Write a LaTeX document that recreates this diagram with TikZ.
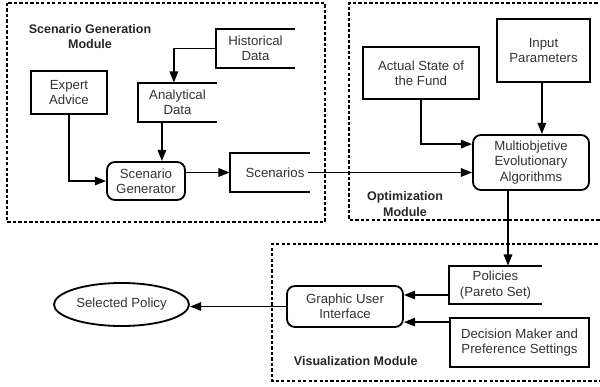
\documentclass[tikz,border=0pt]{standalone}
\usepackage{fontspec}
\setmainfont{Liberation Sans}
\usetikzlibrary{arrows.meta,shapes.geometric}

\begin{document}
\begin{tikzpicture}[x=0.025cm, y=-0.025cm,
	every node/.style={font=\fontsize{9.4}{10.8}\selectfont, text=black!80, align=center},
	>={Triangle[length=8pt,width=6pt]},
	line/.style={line width=1.3pt},
	module/.style={line width=1.3pt, dash pattern=on 2.4pt off 1.5pt},
	title/.style={font=\fontsize{8.9}{10.8}\selectfont\bfseries, text=black!85},
	box/.style={draw, line width=1.3pt, inner sep=1pt},
	proc/.style={box, rounded corners=0.2cm},
	store/.style={inner sep=1pt}]
	\useasboundingbox (0,0) rectangle (600,387);

	\draw[module] (7,3) rectangle (325,222);
	\draw[module] (603,3) -- (349,3) -- (349,220) -- (603,220);
	\draw[module] (603,244) -- (272,244) -- (272,381) -- (603,381);
	\node[title] at (90,36.5) {Scenario Generation\\Module};
	\node[title] at (405,204) {Optimization\\Module};
	\node[title, anchor=west] at (289,361) {Visualization Module};

	\node[store, minimum width=1.975cm, minimum height=0.975cm] (hist) at (255.5,48.5) {Historical\\Data};
	\node[store, minimum width=1.975cm, minimum height=0.975cm] (anal) at (177.5,102.5) {Analytical\\Data};
	\node[store, minimum width=2cm, minimum height=0.975cm] (scen) at (270,172.5) {\hspace{0.25cm}Scenarios};
	\node[store, minimum width=2.325cm, minimum height=0.95cm] (pol) at (495.5,285) {Policies\\(Pareto Set)};
	\foreach \n in {hist,anal,scen,pol}
		\draw[line] (\n.north east) -- (\n.north west) -- (\n.south west) -- (\n.south east);

	\node[box, minimum width=1.9cm, minimum height=1.075cm] (expert) at (69,92.5) {Expert\\Advice};
	\node[proc, minimum width=1.95cm, minimum height=0.95cm] (gen) at (146,181) {Scenario\\Generator};
	\node[box, minimum width=2.9cm, minimum height=1.3cm] (actual) at (421,73) {Actual State of\\the Fund};
	\node[box, minimum width=2.325cm, minimum height=1.575cm] (input) at (543.5,50.5) {Input\\Parameters};
	\node[proc, minimum width=2.9cm, minimum height=1.375cm] (mea) at (531,162.5) {Multiobjetive\\Evolutionary\\Algorithms};
	\node[proc, minimum width=2.9cm, minimum height=1.025cm] (gui) at (345,306.5) {Graphic User\\Interface};
	\node[box, minimum width=3.475cm, minimum height=1.225cm] (dm) at (519.5,342.5) {Decision Maker and\\Preference Settings};
	\node[draw, line width=1.3pt, ellipse, minimum width=3.375cm, minimum height=1.075cm, inner sep=1pt] (sel) at (121.5,304.5) {Selected Policy};

	\draw[line,->] (hist.west) -| ([xshift=-0.09cm]anal.north);
	\draw[line,->] (expert.south) |- (gen.west);
	\draw[line,->] ([xshift=-0.39cm]anal.south) -- ([xshift=-0.39cm]anal.south |- gen.north);
	\draw[line,->] (scen.west -| gen.east) -- (scen.west);
	\draw[line,->] ([xshift=-0.05cm]scen.east) -- (scen.east -| mea.west);
	\draw[line,->] (actual.south) |- ([yshift=0.46cm]mea.west);
	\draw[line,->] ([xshift=-0.04cm]input.south) -- ([xshift=-0.04cm]input.south |- mea.north);
	\draw[line,->] ([xshift=-0.575cm]mea.south) -- ([xshift=-0.575cm]mea.south |- pol.north);
	\draw[line,->] ([yshift=-0.25cm]pol.west) -- ([yshift=-0.25cm]pol.west -| gui.east);
	\draw[line,->] ([yshift=0.51cm]dm.west) -- ([yshift=0.51cm]dm.west -| gui.east);
	\draw[line,->] (gui.west) -- (gui.west -| sel.east);
\end{tikzpicture}
\end{document}
